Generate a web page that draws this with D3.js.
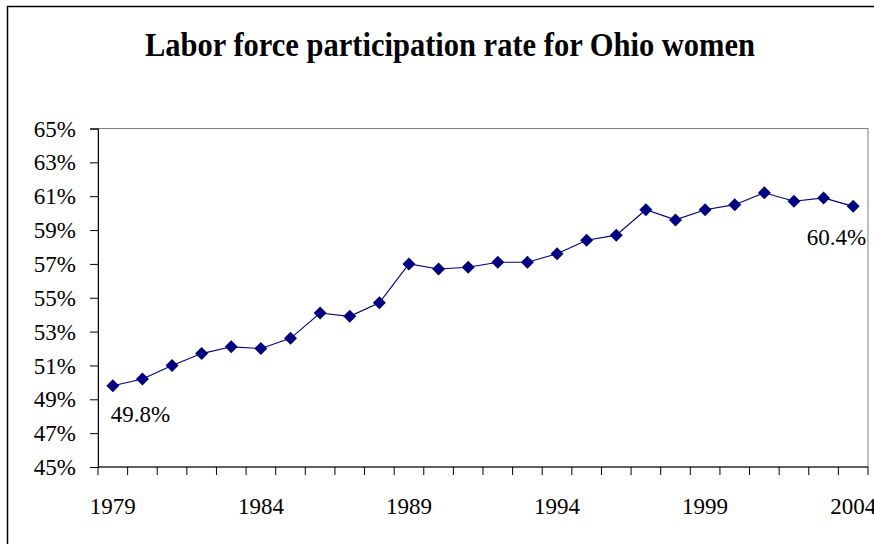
<!DOCTYPE html>
<html>
<head>
<meta charset="utf-8">
<script src="https://cdn.jsdelivr.net/npm/d3@7"></script>
<style>
  html, body { margin: 0; padding: 0; background: #fff; }
  svg { display: block; }
</style>
</head>
<body>
<svg id="chart" width="874" height="544"></svg>
<script>
const title = "Labor force participation rate for Ohio women";
const years = [1979,1980,1981,1982,1983,1984,1985,1986,1987,1988,1989,1990,1991,1992,1993,1994,1995,1996,1997,1998,1999,2000,2001,2002,2003,2004];
const rates = [49.8,50.2,51.0,51.7,52.1,52.0,52.6,54.1,53.9,54.7,57.0,56.7,56.8,57.1,57.1,57.6,58.4,58.7,60.2,59.6,60.2,60.5,61.2,60.7,60.9,60.4];
const yTicks = [45,47,49,51,53,55,57,59,61,63,65];
const xLabelYears = [1979,1984,1989,1994,1999,2004];

const FONT = "'Liberation Serif', 'Times New Roman', serif";
const svg = d3.select("#chart");
const plot = { left: 98, right: 868, top: 128.5, bottom: 467 };

// outer chart border
svg.append("rect").attr("x", 7.5).attr("y", 6.5).attr("width", 900).attr("height", 600)
  .attr("fill", "#fff").attr("stroke", "#000").attr("stroke-width", 1.5);

// title
svg.append("text").attr("x", 145).attr("y", 56)
  .attr("font-family", FONT).attr("fill", "#000")
  .attr("font-size", 33).attr("font-weight", "bold")
  .attr("textLength", 610).attr("lengthAdjust", "spacingAndGlyphs")
  .text(title);

const x = d3.scaleBand().domain(years).range([plot.left, plot.right]).padding(0);
const y = d3.scaleLinear().domain([45, 65]).range([plot.bottom, plot.top]);

// plot area border (gray)
svg.append("rect").attr("x", plot.left).attr("y", plot.top)
  .attr("width", plot.right - plot.left).attr("height", plot.bottom - plot.top)
  .attr("fill", "none").attr("stroke", "#808080").attr("stroke-width", 1);

// Y axis
const yAxis = d3.axisLeft(y).tickValues(yTicks).tickSize(8).tickPadding(14)
  .tickFormat(d => d + "%");
const gy = svg.append("g").attr("transform", `translate(${plot.left},0)`).call(yAxis);
gy.attr("font-family", null).attr("font-size", null);
gy.select(".domain").attr("stroke", "#000");
gy.selectAll(".tick line").attr("stroke", "#000");
gy.selectAll(".tick text").attr("font-size", 23)
  .attr("font-family", FONT).attr("fill", "#000")
  .attr("dy", "0.33em");

// X axis: category axis with ticks between categories
const gx = svg.append("g").attr("transform", `translate(0,${plot.bottom})`);
gx.append("line").attr("x1", plot.left).attr("x2", plot.right).attr("y1", 0).attr("y2", 0)
  .attr("stroke", "#000");
const boundaries = years.map(d => x(d)).concat([x(years[years.length - 1]) + x.bandwidth()]);
gx.selectAll("line.tk").data(boundaries).join("line").attr("class", "tk")
  .attr("x1", d => d).attr("x2", d => d).attr("y1", 0).attr("y2", 8).attr("stroke", "#000");
gx.selectAll("text.xl").data(xLabelYears).join("text").attr("class", "xl")
  .attr("x", d => x(d) + x.bandwidth() / 2).attr("y", 47)
  .attr("text-anchor", "middle").attr("font-size", 23)
  .attr("font-family", FONT).attr("fill", "#000").text(d => d);

// line + markers
const cx = d => x(d) + x.bandwidth() / 2;
const pts = years.map((yr, i) => [cx(yr), y(rates[i])]);
svg.append("path").datum(pts).attr("d", d3.line())
  .attr("fill", "none").attr("stroke", "#000080").attr("stroke-width", 1.1);
svg.selectAll("path.mk").data(pts).join("path").attr("class", "mk")
  .attr("transform", d => `translate(${d[0]},${d[1]})`)
  .attr("d", "M0,-6.5L6.5,0L0,6.5L-6.5,0Z").attr("fill", "#000080");

// data labels
const fmt = v => v.toFixed(1) + "%";
svg.append("text").attr("x", pts[0][0] - 2).attr("y", pts[0][1] + 36)
  .attr("font-family", FONT).attr("fill", "#000")
  .attr("font-size", 23).text(fmt(rates[0]));
const last = pts.length - 1;
svg.append("text").attr("x", pts[last][0] + 13).attr("y", pts[last][1] + 39)
  .attr("font-family", FONT).attr("fill", "#000")
  .attr("text-anchor", "end").attr("font-size", 23).text(fmt(rates[last]));
</script>
</body>
</html>
